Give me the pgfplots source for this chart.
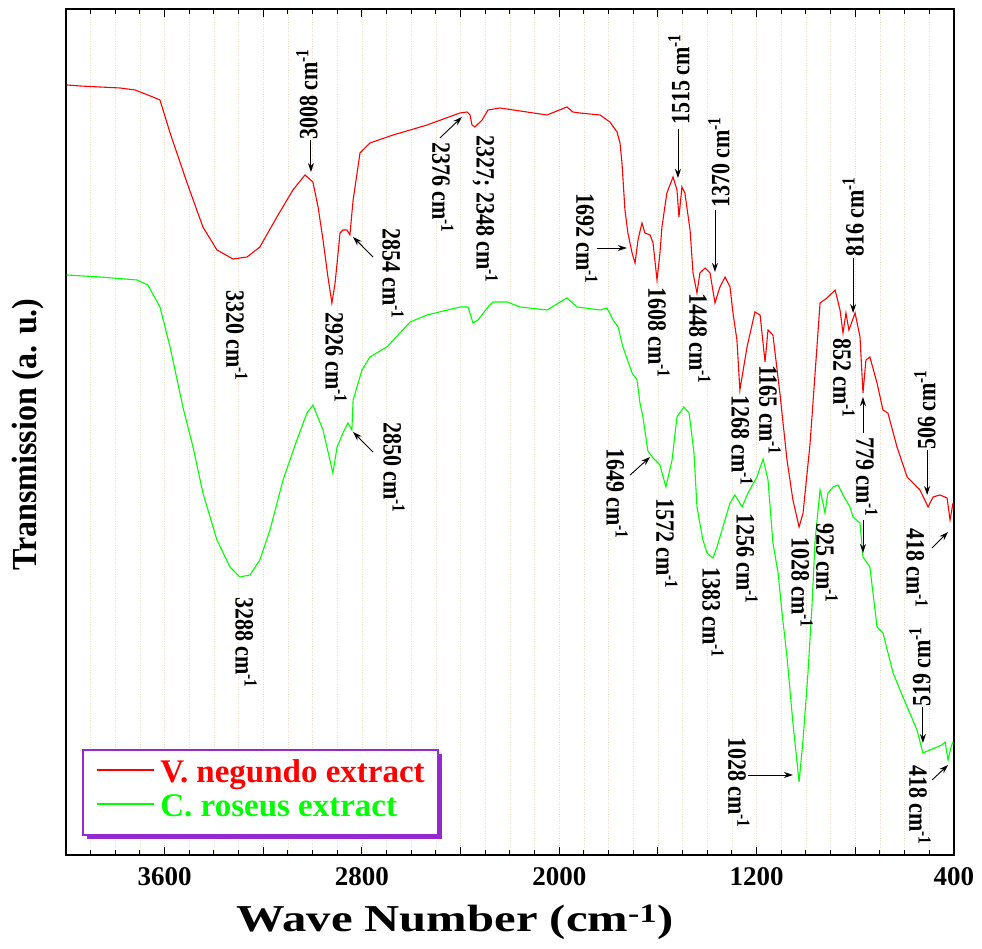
\documentclass[border=0pt]{standalone}
\usepackage{fontspec}
\setmainfont{Liberation Serif}
\usepackage{pgfplots}
\usepackage{pgfplotstable}
\pgfplotsset{compat=1.18}
\usetikzlibrary{arrows.meta,shadows}
\definecolor{gridc}{RGB}{236,226,195}
\definecolor{legpurple}{RGB}{150,40,210}
\newcommand{\lab}[1]{#1 cm\textsuperscript{-1}}

\pgfplotstableread{
wn y
3997 770
3943 769
3862 768
3781 767
3720 765
3668 760
3619 755
3578 722
3509 672
3445 628
3388 605
3323 596
3266 598
3214 608
3145 638
3080 665
3031 680
2999 673
2978 648
2958 615
2938 578
2922 552
2909 572
2889 622
2877 625
2861 625
2849 620
2836 655
2808 702
2768 712
2674 720
2536 730
2403 742
2374 743
2362 740
2354 730
2342 728
2313 735
2289 745
2241 747
2159 744
2050 740
1969 748
1945 743
1916 742
1835 740
1795 733
1766 723
1754 712
1746 692
1734 645
1722 622
1705 602
1693 592
1681 615
1665 632
1653 622
1632 620
1620 612
1604 575
1592 602
1584 628
1564 662
1539 678
1523 665
1515 638
1503 668
1491 662
1470 625
1458 582
1442 562
1430 582
1409 587
1389 582
1369 552
1349 568
1328 578
1308 568
1296 542
1280 515
1268 465
1239 508
1207 543
1186 540
1166 493
1154 525
1134 520
1105 460
1077 395
1053 355
1028 328
1012 342
984 410
955 510
943 552
915 557
882 565
862 545
850 522
838 542
826 525
801 542
781 518
769 462
757 495
741 498
712 472
688 445
668 442
631 408
590 378
538 365
505 348
485 358
457 360
428 357
416 335
404 352
}\redtab

\pgfplotstableread{
wn y
3997 580
3862 578
3712 575
3668 570
3619 548
3578 508
3526 448
3485 408
3445 362
3388 315
3335 288
3295 278
3254 280
3214 295
3173 325
3120 375
3064 415
3023 442
2999 450
2958 425
2930 395
2918 382
2901 408
2877 422
2857 432
2841 425
2836 455
2800 485
2768 498
2699 508
2605 533
2536 540
2403 548
2370 548
2350 532
2330 535
2289 548
2269 553
2212 553
2159 548
2050 545
1969 557
1928 548
1835 545
1807 547
1782 535
1762 528
1742 508
1705 482
1685 475
1673 452
1661 438
1641 404
1620 397
1600 392
1592 390
1568 368
1543 395
1523 438
1495 448
1474 442
1454 402
1442 348
1418 315
1401 302
1377 297
1361 308
1349 318
1308 352
1288 360
1259 348
1235 362
1199 378
1174 396
1154 375
1134 312
1113 282
1097 242
1077 198
1053 132
1028 73
1012 115
992 182
976 248
963 315
943 365
931 352
923 342
911 362
890 368
870 370
850 360
822 348
809 338
781 332
769 298
741 288
712 228
688 222
647 182
607 158
550 125
526 102
497 105
449 110
436 113
424 95
412 108
404 113
}\greentab

\tikzset{
  annD/.style={rotate=-90, yscale=1.2, anchor=west, inner sep=0pt, font=\fontsize{22}{24}\selectfont\bfseries},
  annU/.style={rotate=90, yscale=1.2, anchor=west, inner sep=0pt, font=\fontsize{22}{24}\selectfont\bfseries},
  arr/.style={-{Stealth[length=9pt,width=6pt]}, line width=0.9pt, black},
}

\begin{document}
\begin{tikzpicture}
\useasboundingbox (-66pt,-94pt) rectangle (916pt,855pt);
\begin{axis}[
  at={(0pt,0pt)}, anchor=south west,
  scale only axis, width=888pt, height=846pt,
  xmin=400, xmax=4000, ymin=0, ymax=846,
  x dir=reverse,
  xtick={400,800,...,4000},
  xticklabels={400,{},1200,{},2000,{},2800,{},3600,{}},
  minor x tick num=3,
  ytick=\empty,
  tick align=inside,
  major tick length=8pt, minor tick length=5pt,
  every tick/.style={black, line width=1pt},
  xmajorgrids, xminorgrids,
  major grid style={gridc, dotted, line width=0.9pt},
  minor grid style={gridc, dotted, line width=0.9pt},
  axis line style={line width=1.6pt},
  xticklabel style={font=\fontsize{27}{30}\selectfont\bfseries, anchor=center, yshift=-22pt},
  xlabel={Wave Number (cm\textsuperscript{-1})},
  xlabel style={font=\fontsize{38}{42}\selectfont\bfseries, xscale=1.28, at={(axis description cs:0.438,-0.080)}, anchor=center},
  ylabel={Transmission (a. u.)},
  ylabel style={font=\fontsize{32}{36}\selectfont\bfseries, yscale=1.1, at={(axis description cs:-0.0428,0.497)}, anchor=center},
  legend style={at={(axis description cs:0.0338,0.0757)}, anchor=west,
    draw=none, fill=none, inner sep=0pt,
    column sep=6pt, row sep=0pt,
    font=\fontsize{33}{36}\selectfont\bfseries,
    nodes={inner sep=0pt, text height=26pt, text depth=8pt}},
  legend cell align=left,
  legend image code/.code={\draw[#1, line width=1.2pt] (0pt,4pt) -- (57pt,4pt);},
]
\addplot[red, line width=1.1pt] table[x=wn, y=y] {\redtab};
\addlegendentry{\textcolor{red}{V. negundo extract}}
\addplot[green, line width=1.1pt] table[x=wn, y=y] {\greentab};
\addlegendentry{\textcolor{green}{C. roseus extract}}

% legend frame with purple shadow
\draw[legpurple, line width=1.2pt, fill=white,
  drop shadow={shadow xshift=4pt, shadow yshift=-4pt, fill=legpurple, opacity=1}]
  (axis description cs:0.0191,0.0236) rectangle (axis description cs:0.4189,0.1241);

% red curve labels
\node[annU] at (axis cs:3023,715) {\lab{3008}};
\draw[arr] (axis cs:3007,715) -- (axis cs:3007,683);
\node[annD] at (axis cs:3307,565) {\lab{3320}};
\node[annD] at (axis cs:2905,543) {\lab{2926}};
\node[annD] at (axis cs:2674,627) {\lab{2854}};
\draw[arr] (axis cs:2755,598) -- (axis cs:2836,618);
\node[annD] at (axis cs:2472,713) {\lab{2376}};
\draw[arr] (axis cs:2484,717) -- (axis cs:2395,738);
\node[annD] at (axis cs:2301,720) {2327; \lab{2348}};
\node[annD] at (axis cs:1888,662) {\lab{1692}};
\draw[arr] (axis cs:1847,607) -- (axis cs:1726,607);
\node[annD] at (axis cs:1596,568) {\lab{1608}};
\node[annU] at (axis cs:1515,730) {\lab{1515}};
\draw[arr] (axis cs:1519,726) -- (axis cs:1519,677);
\node[annD] at (axis cs:1430,562) {\lab{1448}};
\node[annU] at (axis cs:1353,647) {\lab{1370}};
\draw[arr] (axis cs:1369,645) -- (axis cs:1369,583);
\node[annD] at (axis cs:1259,460) {\lab{1268}};
\node[annD] at (axis cs:1146,490) {\lab{1165}};
\node[annD] at (axis cs:1016,318) {\lab{1028}};
\node[annU] at (axis cs:809,598) {\lab{816}};
\draw[arr] (axis cs:809,597) -- (axis cs:809,542);
\node[annD] at (axis cs:846,517) {\lab{852}};
\node[annD] at (axis cs:753,418) {\lab{779}};
\draw[arr] (axis cs:769,422) -- (axis cs:769,458);
\draw[arr] (axis cs:769,335) -- (axis cs:769,302);
\node[annU] at (axis cs:518,405) {\lab{506}};
\draw[arr] (axis cs:509,405) -- (axis cs:509,360);
\node[annD] at (axis cs:550,327) {\lab{418}};
\draw[arr] (axis cs:489,307) -- (axis cs:424,323);

% green curve labels
\node[annD] at (axis cs:3270,258) {\lab{3288}};
\node[annD] at (axis cs:2670,433) {\lab{2850}};
\draw[arr] (axis cs:2755,403) -- (axis cs:2836,423);
\node[annD] at (axis cs:1766,407) {\lab{1649}};
\draw[arr] (axis cs:1713,380) -- (axis cs:1632,398);
\node[annD] at (axis cs:1564,357) {\lab{1572}};
\node[annD] at (axis cs:1377,288) {\lab{1383}};
\node[annD] at (axis cs:1239,342) {\lab{1256}};
\node[annD] at (axis cs:915,332) {\lab{925}};
\node[annD] at (axis cs:1272,118) {\lab{1028}};
\draw[arr] (axis cs:1235,80) -- (axis cs:1053,80);
\node[annU] at (axis cs:538,148) {\lab{519}};
\draw[arr] (axis cs:526,148) -- (axis cs:526,112);
\node[annD] at (axis cs:538,90) {\lab{418}};
\draw[arr] (axis cs:489,75) -- (axis cs:424,90);
\end{axis}
\end{tikzpicture}
\end{document}
